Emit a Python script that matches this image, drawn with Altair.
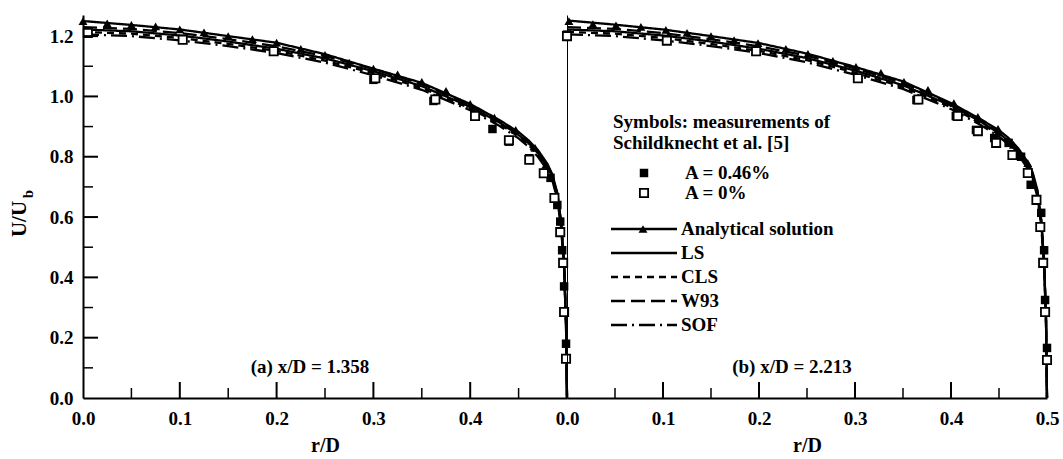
import altair as alt
import pandas as pd

FONT = "Liberation Serif"

# ---------------- data ----------------
series_names = ["Analytical solution", "LS", "CLS", "W93", "SOF"]
r_grid = [0.0, 0.05, 0.1, 0.15, 0.2, 0.25, 0.3, 0.35, 0.4, 0.43, 0.45, 0.46, 0.47,
          0.48, 0.485, 0.49, 0.494, 0.497, 0.499, 0.5]

# panel (a) x/D = 1.358
a_ana = [1.250, 1.237, 1.222, 1.200, 1.178, 1.140, 1.092, 1.045, 0.975, 0.922, 0.882, 0.855, 0.822, 0.775, 0.740, 0.680, 0.580, 0.440, 0.250, 0.0]
a_ls = [1.222, 1.216, 1.202, 1.182, 1.158, 1.126, 1.084, 1.034, 0.966, 0.914, 0.872, 0.846, 0.812, 0.766, 0.732, 0.672, 0.575, 0.440, 0.250, 0.0]
a_cls = [1.214, 1.208, 1.194, 1.174, 1.151, 1.119, 1.077, 1.028, 0.960, 0.909, 0.867, 0.840, 0.806, 0.760, 0.726, 0.666, 0.568, 0.432, 0.245, 0.0]
a_w93 = [1.230, 1.224, 1.210, 1.190, 1.166, 1.134, 1.091, 1.041, 0.972, 0.920, 0.878, 0.851, 0.817, 0.771, 0.737, 0.677, 0.580, 0.445, 0.255, 0.0]
a_sof = [1.206, 1.200, 1.186, 1.167, 1.144, 1.112, 1.070, 1.022, 0.954, 0.903, 0.861, 0.834, 0.800, 0.754, 0.720, 0.660, 0.562, 0.428, 0.240, 0.0]

tri_r_a = [0.0, 0.025, 0.05, 0.075, 0.1, 0.125, 0.15, 0.175, 0.2, 0.225, 0.25, 0.275, 0.3, 0.325, 0.35, 0.375, 0.4, 0.425, 0.447, 0.467, 0.478]
tri_u_a = [1.250, 1.242, 1.237, 1.232, 1.222, 1.212, 1.200, 1.190, 1.178, 1.158, 1.138, 1.112, 1.092, 1.073, 1.048, 1.018, 0.975, 0.930, 0.889, 0.829, 0.773]

fill_r_a = [0.005, 0.103, 0.197, 0.300, 0.362, 0.405, 0.423, 0.440, 0.461, 0.483, 0.490, 0.493, 0.495, 0.497, 0.499]
fill_u_a = [1.215, 1.190, 1.150, 1.055, 0.985, 0.935, 0.892, 0.850, 0.795, 0.730, 0.640, 0.585, 0.490, 0.370, 0.180]
open_r_a = [0.005, 0.103, 0.197, 0.302, 0.364, 0.405, 0.440, 0.461, 0.476, 0.487, 0.493, 0.496, 0.497, 0.499]
open_u_a = [1.210, 1.188, 1.150, 1.060, 0.990, 0.935, 0.855, 0.790, 0.745, 0.663, 0.550, 0.448, 0.285, 0.130]

# panel (b) x/D = 2.213
b_ana = [1.252, 1.238, 1.222, 1.200, 1.177, 1.142, 1.098, 1.050, 0.978, 0.926, 0.888, 0.862, 0.828, 0.782, 0.748, 0.690, 0.590, 0.450, 0.260, 0.0]
b_ls = [1.222, 1.216, 1.202, 1.182, 1.158, 1.127, 1.086, 1.037, 0.970, 0.918, 0.878, 0.852, 0.819, 0.772, 0.738, 0.680, 0.584, 0.447, 0.256, 0.0]
b_cls = [1.214, 1.208, 1.194, 1.174, 1.151, 1.120, 1.079, 1.031, 0.964, 0.913, 0.873, 0.846, 0.813, 0.766, 0.732, 0.674, 0.577, 0.440, 0.250, 0.0]
b_w93 = [1.230, 1.224, 1.210, 1.190, 1.166, 1.135, 1.093, 1.044, 0.976, 0.924, 0.884, 0.857, 0.824, 0.777, 0.743, 0.685, 0.589, 0.452, 0.262, 0.0]
b_sof = [1.206, 1.200, 1.186, 1.167, 1.144, 1.113, 1.072, 1.025, 0.958, 0.907, 0.867, 0.840, 0.807, 0.760, 0.726, 0.668, 0.571, 0.434, 0.245, 0.0]

tri_r_b = [0.002, 0.027, 0.051, 0.077, 0.103, 0.125, 0.15, 0.174, 0.199, 0.228, 0.251, 0.277, 0.301, 0.327, 0.351, 0.376, 0.403, 0.428, 0.449, 0.465, 0.48]
tri_u_b = [1.250, 1.240, 1.236, 1.231, 1.221, 1.211, 1.200, 1.187, 1.177, 1.158, 1.141, 1.118, 1.098, 1.078, 1.048, 1.022, 0.978, 0.932, 0.892, 0.839, 0.779]

fill_r_b = [0.0, 0.104, 0.197, 0.303, 0.364, 0.405, 0.426, 0.445, 0.460, 0.473, 0.483, 0.494, 0.497, 0.498, 0.500]
fill_u_b = [1.205, 1.188, 1.148, 1.060, 0.988, 0.935, 0.889, 0.862, 0.846, 0.800, 0.707, 0.614, 0.490, 0.325, 0.166]
open_r_b = [0.0, 0.104, 0.197, 0.303, 0.366, 0.407, 0.428, 0.447, 0.464, 0.480, 0.489, 0.493, 0.496, 0.498, 0.500]
open_u_b = [1.200, 1.185, 1.150, 1.060, 0.990, 0.935, 0.885, 0.846, 0.806, 0.746, 0.657, 0.567, 0.448, 0.285, 0.126]

x_major = [0.1, 0.2, 0.3, 0.4]
x_minor = [0.05, 0.15, 0.25, 0.35, 0.45]
y_major = [0.2, 0.4, 0.6, 0.8, 1.0, 1.2]
y_minor = [0.1, 0.3, 0.5, 0.7, 0.9, 1.1]
y_labels = [0.0, 0.2, 0.4, 0.6, 0.8, 1.0, 1.2]
x_labels_a = [0.0, 0.1, 0.2, 0.3, 0.4]
x_labels_b = [0.0, 0.1, 0.2, 0.3, 0.4, 0.5]

# ---------------- styling ----------------
W_A, W_B, H = 484, 480, 383
dashes = [[1, 0], [1, 0], [7, 5], [14, 6], [16, 5, 2, 5]]
xs = alt.Scale(domain=[0, 0.5], nice=False, zero=False)
ys = alt.Scale(domain=[0, 1.27], nice=False, zero=False)


def xaxis(vals):
    return alt.Axis(values=vals, format=".1f", ticks=False, grid=False, labelFlush=False,
                    labelOverlap=False, labelFont=FONT, labelFontSize=19, labelFontWeight="bold",
                    labelColor="black", labelPadding=11, domainColor="black", domainWidth=2,
                    title="r/D", titleFont=FONT, titleFontSize=20, titleFontWeight="bold",
                    titleColor="black", titlePadding=7)


yaxis_a = alt.Axis(values=y_labels, format=".1f", ticks=False, grid=False, labelFlush=False,
                   labelOverlap=False, labelFont=FONT, labelFontSize=19, labelFontWeight="bold",
                   labelColor="black", labelPadding=10, domainColor="black", domainWidth=2)
yaxis_b = alt.Axis(labels=False, ticks=False, grid=False, domainColor="black", domainWidth=1)


def curves_df(vals):
    rows = []
    for name, us in zip(series_names, vals):
        for r, u in zip(r_grid, us):
            rows.append({"r": r, "u": u, "series": name})
    return pd.DataFrame(rows)


def text_layer(txt, x, y, size=19, align="left", angle=0):
    return alt.Chart(pd.DataFrame({"t": [txt]})).mark_text(
        text=txt, font=FONT, fontSize=size, fontWeight="bold", align=align,
        baseline="middle", color="black", angle=angle
    ).encode(x=alt.value(x), y=alt.value(y))


def panel(vals, tri_r, tri_u, fr, fu, orr, ou, x_labels, yaxis, width, label, y_ticks):
    X = alt.X("r:Q", scale=xs, axis=xaxis(x_labels))
    Y = alt.Y("u:Q", scale=ys, axis=yaxis, title=None)
    layers = []
    layers.append(alt.Chart(curves_df(vals)).mark_line(strokeWidth=2.3, color="black").encode(
        x=X, y=Y,
        strokeDash=alt.StrokeDash("series:N", scale=alt.Scale(domain=series_names, range=dashes),
                                  legend=None)))
    layers.append(alt.Chart(pd.DataFrame({"r": tri_r, "u": tri_u})).mark_point(
        shape="triangle-up", filled=True, color="black", size=80, opacity=1).encode(x=X, y=Y))
    layers.append(alt.Chart(pd.DataFrame({"r": fr, "u": fu})).mark_point(
        shape="square", filled=True, color="black", size=72, opacity=1).encode(x=X, y=Y))
    layers.append(alt.Chart(pd.DataFrame({"r": orr, "u": ou})).mark_point(
        shape="square", filled=False, fill="white", stroke="black", strokeWidth=1.8,
        size=68, opacity=1, fillOpacity=1).encode(x=X, y=Y))
    # inward ticks on the x axis
    layers.append(alt.Chart(pd.DataFrame({"r": x_major})).mark_rule(color="black", strokeWidth=2).encode(
        x=X, y=alt.value(H), y2=alt.value(H - 16)))
    layers.append(alt.Chart(pd.DataFrame({"r": x_minor})).mark_rule(color="black", strokeWidth=1.5).encode(
        x=X, y=alt.value(H), y2=alt.value(H - 10)))
    if y_ticks:
        layers.append(alt.Chart(pd.DataFrame({"u": y_major})).mark_rule(color="black", strokeWidth=2).encode(
            y=Y, x=alt.value(0), x2=alt.value(15)))
        layers.append(alt.Chart(pd.DataFrame({"u": y_minor})).mark_rule(color="black", strokeWidth=1.5).encode(
            y=Y, x=alt.value(0), x2=alt.value(10)))
    layers.append(text_layer(label, width / 2 - 15, 352, align="center"))
    return layers


left_layers = panel([a_ana, a_ls, a_cls, a_w93, a_sof], tri_r_a, tri_u_a, fill_r_a, fill_u_a,
                    open_r_a, open_u_a, x_labels_a, yaxis_a, W_A, "(a) x/D = 1.358", True)
left_layers.append(text_layer("U/U", -63, 204, size=21, align="center", angle=270))
left_layers.append(text_layer("b", -55, 179, size=15, align="center", angle=270))

right_layers = panel([b_ana, b_ls, b_cls, b_w93, b_sof], tri_r_b, tri_u_b, fill_r_b, fill_u_b,
                     open_r_b, open_u_b, x_labels_b, yaxis_b, W_B, "(b) x/D = 2.213", False)

# legend drawn inside panel (b)
one = pd.DataFrame({"k": [0]})
right_layers.append(text_layer("Symbols: measurements of", 46, 107))
right_layers.append(text_layer("Schildknecht et al. [5]", 46, 128))
right_layers.append(alt.Chart(one).mark_point(shape="square", filled=True, color="black", size=72, opacity=1)
                    .encode(x=alt.value(77), y=alt.value(158)))
right_layers.append(text_layer("A = 0.46%", 118, 158))
right_layers.append(alt.Chart(one).mark_point(shape="square", filled=False, fill="white", stroke="black",
                                              strokeWidth=1.8, size=68, opacity=1)
                    .encode(x=alt.value(77), y=alt.value(178)))
right_layers.append(text_layer("A = 0%", 118, 178))
leg_y = [214, 238, 262, 286, 310]
for name, dash, yy in zip(series_names, dashes, leg_y):
    right_layers.append(alt.Chart(one).mark_rule(color="black", strokeWidth=2.3, strokeDash=dash)
                        .encode(x=alt.value(44), x2=alt.value(110), y=alt.value(yy)))
    right_layers.append(text_layer(name, 114, yy))
right_layers.append(alt.Chart(one).mark_point(shape="triangle-up", filled=True, color="black", size=80, opacity=1)
                    .encode(x=alt.value(76), y=alt.value(214)))

left = alt.layer(*left_layers).properties(width=W_A, height=H)
right = alt.layer(*right_layers).properties(width=W_B, height=H)

chart = alt.hconcat(left, right, spacing=0, bounds="flush").properties(
    padding={"left": 9, "top": 15, "right": 4, "bottom": 0},
    background="white"
).configure_view(strokeWidth=0)

chart.save("out.html", embed_options={"renderer": "svg", "actions": False})
